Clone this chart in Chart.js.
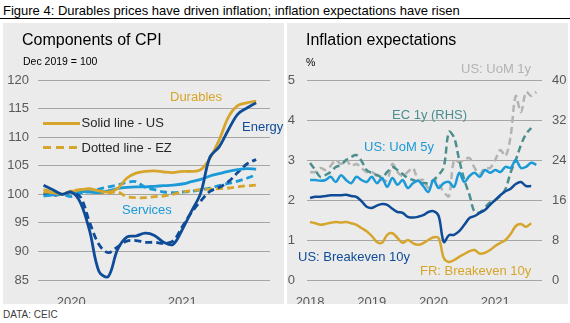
<!DOCTYPE html>
<html>
<head>
<meta charset="utf-8">
<script src="https://cdn.jsdelivr.net/npm/chart.js@4.4.0/dist/chart.umd.min.js"></script>
<style>
  body { margin: 0; background: #fff; font-family: Arial, "Liberation Sans", sans-serif; }
  #fig { position: relative; width: 570px; height: 323px; overflow: hidden; background: #fff; }
  .txt { position: absolute; white-space: nowrap; }
  .panel { position: absolute; background: #ebebeb; }
  .panel canvas { position: absolute; left: 0; top: 0; }
</style>
</head>
<body>
<div id="fig">
  <div class="txt" style="left:3px;top:4px;font-size:13px;line-height:13px;color:#000">Figure 4: Durables prices have driven inflation; inflation expectations have risen</div>
  <div style="position:absolute;left:0;top:18px;width:570px;height:1px;background:#000"></div>

  <div class="panel" style="left:3px;top:23px;width:281px;height:281px">
    <canvas id="graficoCpi" width="281" height="281"></canvas>
  </div>
  <div class="panel" style="left:287px;top:23px;width:281px;height:281px">
    <canvas id="graficoExpect" width="281" height="281"></canvas>
  </div>

  <!-- CPI panel texts -->
  <div class="txt" style="left:22px;top:32px;font-size:16px;line-height:16px;color:#000">Components of CPI</div>
  <div class="txt" style="left:23px;top:56px;font-size:10.5px;line-height:10.5px;color:#000">Dec 2019 = 100</div>
  <div class="txt" style="left:170px;top:89.5px;font-size:13px;line-height:13px;color:#d6a52b">Durables</div>
  <div class="txt" style="left:242px;top:120px;font-size:13px;line-height:13px;color:#0f4c97">Energy</div>
  <div class="txt" style="left:122px;top:202.5px;font-size:13px;line-height:13px;color:#1b9ad7">Services</div>
  <div style="position:absolute;left:43px;top:121.5px;width:37px;height:3px;background:#d6a52b"></div>
  <div style="position:absolute;left:43px;top:146px;width:36px;height:3px;background:repeating-linear-gradient(to right,#d6a52b 0 8px,transparent 8px 13px)"></div>
  <div class="txt" style="left:81.5px;top:116px;font-size:13px;line-height:13px;color:#262626">Solid line - US</div>
  <div class="txt" style="left:81.5px;top:141px;font-size:13px;line-height:13px;color:#262626">Dotted line - EZ</div>

  <!-- Expectations panel texts -->
  <div class="txt" style="left:306px;top:32px;font-size:16px;line-height:16px;color:#000">Inflation expectations</div>
  <div class="txt" style="left:306px;top:56.5px;font-size:10.5px;line-height:10.5px;color:#000">%</div>
  <div class="txt" style="left:461px;top:62px;font-size:13px;line-height:13px;color:#b3b3b3">US: UoM 1y</div>
  <div class="txt" style="left:392px;top:107.5px;font-size:13px;line-height:13px;color:#4a8f8e">EC 1y (RHS)</div>
  <div class="txt" style="left:364px;top:140px;font-size:13px;line-height:13px;color:#1b9ad7">US: UoM 5y</div>
  <div class="txt" style="left:298px;top:250px;font-size:13px;line-height:13px;color:#0f4c97">US: Breakeven 10y</div>
  <div class="txt" style="left:420px;top:263.5px;font-size:13px;line-height:13px;color:#d6a52b">FR: Breakeven 10y</div>

  <div class="txt" style="left:3px;top:310px;font-size:10px;line-height:10px;color:#404040">DATA: CEIC</div>
</div>

<script>
// ---------- Components of CPI (Dec 2019 = 100) ----------
const cpiMonths = [
  '2019-10', '2019-11', '2019-12',
  '2020-01', '2020-02', '2020-03', '2020-04', '2020-05', '2020-06',
  '2020-07', '2020-08', '2020-09', '2020-10', '2020-11', '2020-12',
  '2021-01', '2021-02', '2021-03', '2021-04', '2021-05', '2021-06',
  '2021-07', '2021-08', '2021-09'
];
const usEnergy   = [101.6, 100.8, 100.0, 100.4, 98.5, 93.5, 86.5, 85.6, 90.3, 92.5, 92.7, 93.2, 92.8, 91.6, 91.2, 93.8, 97.0, 100.2, 106.5, 108.3, 111.3, 114.0, 115.1, 116.0];
const usDurables = [100.4, 100.3, 100.0, 100.5, 100.8, 101.0, 100.6, 100.4, 101.0, 102.8, 103.7, 104.0, 104.1, 103.9, 103.8, 104.0, 104.0, 104.3, 106.3, 109.5, 113.5, 115.5, 116.0, 116.3];
const usServices = [99.7, 99.9, 100.0, 100.3, 100.5, 100.4, 100.3, 100.6, 101.0, 101.2, 101.3, 101.3, 101.4, 101.5, 101.6, 101.8, 102.2, 102.6, 103.2, 103.6, 104.0, 104.3, 104.5, 104.4];
const ezEnergy   = [100.2, 99.8, 100.0, 100.3, 99.5, 95.0, 91.2, 89.8, 90.8, 91.8, 91.9, 91.6, 91.6, 91.4, 91.8, 94.3, 96.8, 98.8, 100.5, 101.2, 102.2, 103.8, 105.3, 106.1];
const ezDurables = [100.8, 100.5, 100.0, 100.6, 100.8, 100.6, 100.3, 100.2, 100.4, 99.6, 99.4, 99.4, 99.6, 99.7, 100.0, 100.4, 100.6, 100.8, 100.9, 101.0, 101.1, 101.3, 101.5, 101.6];
const ezServices = [100.0, 99.9, 100.0, 99.6, 100.2, 100.5, 100.9, 101.3, 101.6, 102.1, 102.2, 101.2, 100.8, 100.4, 100.3, 100.4, 100.5, 100.8, 101.1, 101.5, 101.9, 102.3, 102.8, 103.4];

// ---------- Inflation expectations (%) ----------
const expMonths = [
  '2018-01', '2018-02', '2018-03', '2018-04', '2018-05', '2018-06', '2018-07', '2018-08', '2018-09', '2018-10', '2018-11', '2018-12',
  '2019-01', '2019-02', '2019-03', '2019-04', '2019-05', '2019-06', '2019-07', '2019-08', '2019-09', '2019-10', '2019-11', '2019-12',
  '2020-01', '2020-02', '2020-03', '2020-04', '2020-05', '2020-06', '2020-07', '2020-08', '2020-09', '2020-10', '2020-11', '2020-12',
  '2021-01', '2021-02', '2021-03', '2021-04', '2021-05', '2021-06', '2021-07', '2021-08', '2021-09'
];
const usUom1y = [2.7, 2.7, 2.8, 2.75, 2.85, 3.0, 2.9, 3.0, 2.85, 2.9, 2.8, 2.7, 2.7, 2.6, 2.5, 2.5, 2.9, 2.7, 2.6, 2.7, 2.8, 2.5, 2.5, 2.3, 2.5, 2.4, 2.2, 2.1, 3.0, 2.95, 3.0, 3.05, 2.8, 2.65, 2.8, 2.8, 3.0, 3.25, 3.1, 3.6, 4.6, 4.2, 4.7, 4.6, 4.7];
const usUom5y = [2.5, 2.5, 2.48, 2.5, 2.58, 2.45, 2.62, 2.5, 2.42, 2.58, 2.5, 2.45, 2.58, 2.42, 2.55, 2.33, 2.55, 2.38, 2.5, 2.3, 2.42, 2.48, 2.35, 2.2, 2.5, 2.3, 2.42, 2.45, 2.33, 2.68, 2.45, 2.6, 2.68, 2.58, 2.75, 2.68, 2.75, 2.7, 2.83, 2.8, 3.0, 2.8, 2.83, 2.93, 2.88];
const usBreakeven = [2.05, 2.08, 2.08, 2.1, 2.12, 2.12, 2.12, 2.13, 2.1, 2.08, 1.97, 1.83, 1.8, 1.86, 1.9, 1.88, 1.78, 1.7, 1.68, 1.58, 1.56, 1.58, 1.62, 1.7, 1.72, 1.6, 0.95, 1.12, 1.13, 1.22, 1.38, 1.55, 1.6, 1.68, 1.75, 1.88, 2.0, 2.12, 2.22, 2.28, 2.4, 2.45, 2.35, 2.35];
const frBreakeven = [1.45, 1.42, 1.38, 1.4, 1.43, 1.45, 1.44, 1.45, 1.42, 1.38, 1.3, 1.22, 1.1, 0.95, 0.93, 1.13, 1.17, 1.05, 0.93, 1.0, 0.92, 0.88, 0.92, 1.0, 1.07, 1.05, 0.55, 0.45, 0.5, 0.58, 0.65, 0.72, 0.75, 0.66, 0.68, 0.75, 0.85, 0.93, 1.0, 1.15, 1.35, 1.4, 1.33, 1.42];
const ec1y = [23.4, 22, 20.6, 21, 21.6, 22.6, 23, 24, 24.6, 25, 23.8, 22, 21.4, 21, 20.6, 21.6, 22.6, 22, 21.2, 20.4, 20, 19.6, 19.4, 19.4, 20, 21, 22.6, 29.6, 28.5, 24, 20, 17, 13.6, 13.5, 14.5, 15.5, 16, 16.8, 18.2, 21.5, 24, 27, 29.2, 30.4];

const ORO = '#d6a52b';
const AZUL = '#0f4c97';
const CELESTE = '#1b9ad7';
const VERDE = '#4a8f8e';
const GRIS = '#b3b3b3';
const REJILLA = '#a6a6a6';
const TEXTO = '#595959';
const FUENTE = { family: 'Arial, "Liberation Sans", sans-serif', size: 13 };

const puntos = serie => serie.map((v, i) => ({ x: i, y: v }));

function linea(data, color, dashed, width) {
  return {
    data: puntos(data),
    borderColor: color,
    borderWidth: width,
    borderDash: dashed ? [7, 4] : [],
    pointRadius: 0,
    tension: 0.35,
    fill: false
  };
}

// Ticks on each January, labelled with the year
function ticksAnuales(meses) {
  return scale => {
    scale.ticks = meses
      .map((m, i) => ({ value: i, m }))
      .filter(t => t.m.endsWith('-01'))
      .map(t => ({ value: t.value }));
  };
}

Chart.defaults.animation = false;

new Chart(document.getElementById('graficoCpi').getContext('2d'), {
  type: 'line',
  data: {
    datasets: [
      linea(usEnergy, AZUL, false, 2.8),
      linea(usDurables, ORO, false, 2.8),
      linea(usServices, CELESTE, false, 2.8),
      linea(ezEnergy, AZUL, true, 2.8),
      linea(ezDurables, ORO, true, 2.8),
      linea(ezServices, CELESTE, true, 2.8)
    ]
  },
  options: {
    responsive: false,
    layout: { padding: { top: 57, right: 14, left: 0, bottom: 0 } },
    plugins: { legend: { display: false }, tooltip: { enabled: false } },
    scales: {
      x: {
        type: 'linear',
        bounds: 'data',
        min: -0.6,
        max: 24.5,
        grid: { display: false },
        border: { display: false },
        afterBuildTicks: ticksAnuales(cpiMonths),
        afterFit: s => { s.height = 24; },
        ticks: {
          autoSkip: false,
          maxRotation: 0,
          padding: 7,
          color: TEXTO,
          font: FUENTE,
          callback: v => cpiMonths[v].slice(0, 4)
        }
      },
      y: {
        min: 85,
        max: 120,
        afterFit: s => { s.width = 35; },
        grid: { color: REJILLA, lineWidth: 1, drawTicks: false },
        border: { display: false },
        ticks: { stepSize: 5, padding: 9, color: TEXTO, font: FUENTE }
      }
    }
  }
});

const expDatasets = [
  linea(usBreakeven, AZUL, false, 2.5),
  linea(frBreakeven, ORO, false, 2.5),
  linea(usUom5y, CELESTE, false, 2.5),
  Object.assign(linea(ec1y, VERDE, true, 2.5), { yAxisID: 'y1' }),
  linea(usUom1y, GRIS, true, 2.5)
];

new Chart(document.getElementById('graficoExpect').getContext('2d'), {
  type: 'line',
  data: { datasets: expDatasets },
  options: {
    responsive: false,
    layout: { padding: { top: 57, right: 0, left: 0, bottom: 0 } },
    plugins: { legend: { display: false }, tooltip: { enabled: false } },
    scales: {
      x: {
        type: 'linear',
        bounds: 'data',
        min: -0.6,
        max: 45.1,
        grid: { display: false },
        border: { display: false },
        afterBuildTicks: ticksAnuales(expMonths),
        afterFit: s => { s.height = 24; },
        ticks: {
          autoSkip: false,
          maxRotation: 0,
          padding: 7,
          color: TEXTO,
          font: FUENTE,
          callback: v => expMonths[v].slice(0, 4)
        }
      },
      y: {
        position: 'left',
        min: 0,
        max: 5,
        afterFit: s => { s.width = 20; },
        grid: { color: REJILLA, lineWidth: 1, drawTicks: false },
        border: { display: false },
        ticks: { stepSize: 1, padding: 12, color: TEXTO, font: FUENTE }
      },
      y1: {
        position: 'right',
        min: 0,
        max: 40,
        afterFit: s => { s.width = 26; },
        grid: { display: false, drawTicks: false },
        border: { display: false },
        ticks: { stepSize: 8, padding: 10, color: TEXTO, font: FUENTE }
      }
    }
  }
});
</script>
</body>
</html>
